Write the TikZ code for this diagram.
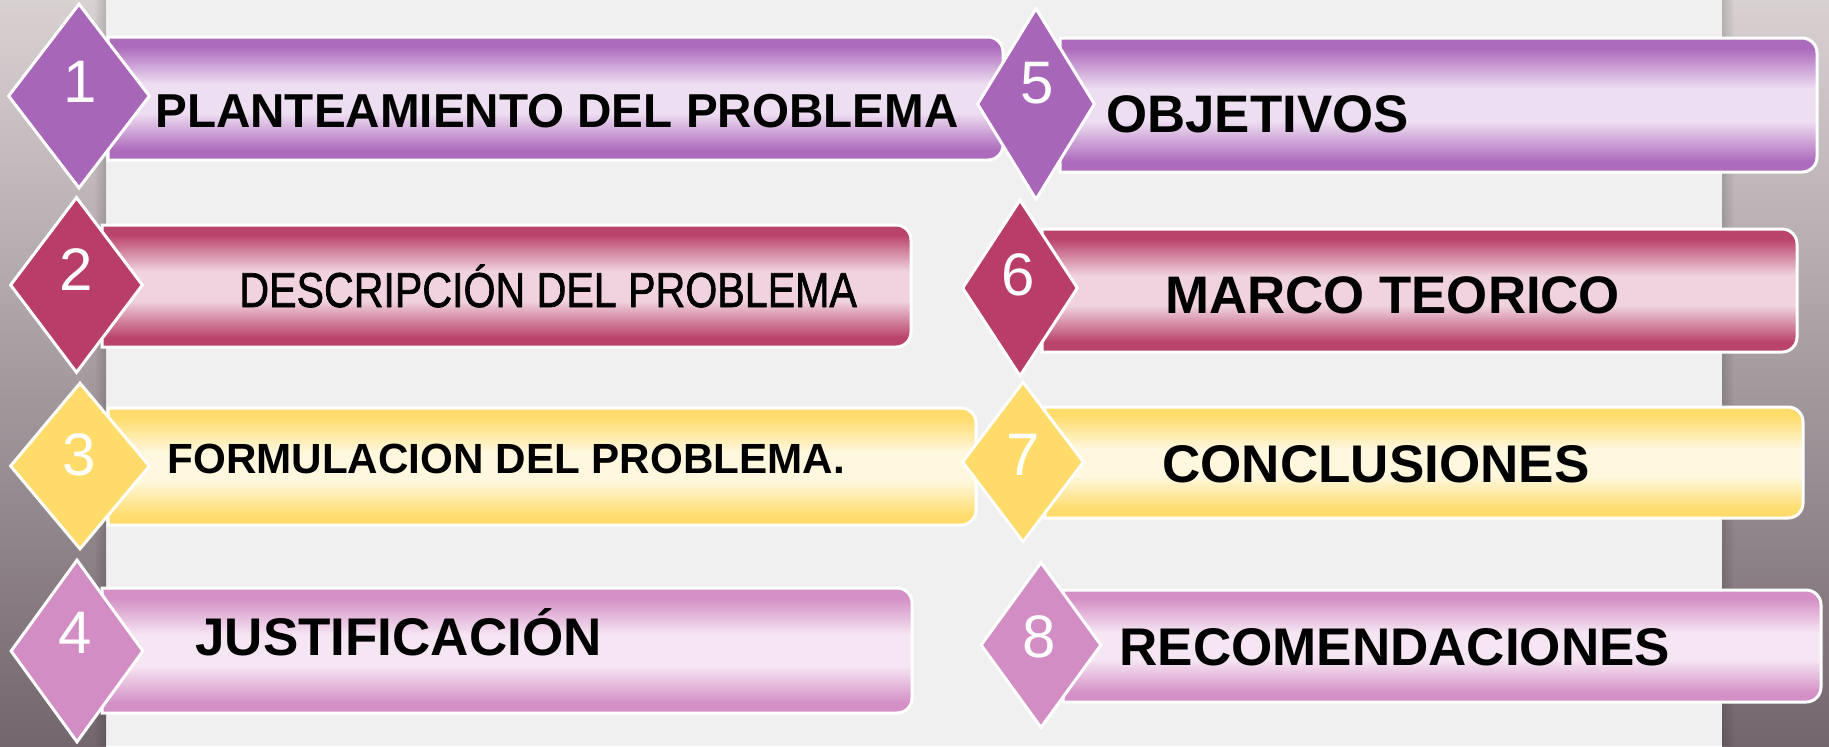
\documentclass[tikz,border=0pt]{standalone}
\usepackage{fontspec}
\setmainfont{Liberation Sans}
\newfontfamily\descf[FakeBold=1.5]{Liberation Sans}
\usetikzlibrary{shapes.geometric,fadings}
\definecolor{bgc}{HTML}{F0F0F0}
\definecolor{stripT}{HTML}{D8D1D2}
\definecolor{stripB}{HTML}{73666D}
\definecolor{purE}{HTML}{AD6BBD}
\definecolor{purL}{HTML}{EEDEF1}
\definecolor{crE}{HTML}{BA436C}
\definecolor{crL}{HTML}{F0D3DE}
\definecolor{yelE}{HTML}{FFDC6C}
\definecolor{yelL}{HTML}{FFF8DF}
\definecolor{pinE}{HTML}{D490C6}
\definecolor{pinL}{HTML}{F6E6F3}
\definecolor{purD}{HTML}{A866B9}
\definecolor{crD}{HTML}{B83D68}
\definecolor{yelD}{HTML}{FFDC6A}
\definecolor{pinD}{HTML}{D28DC4}
\pgfdeclareverticalshading{shpur}{100bp}{color(0bp)=(purE); color(29bp)=(purE); color(44bp)=(purL); color(56bp)=(purL); color(71bp)=(purE); color(100bp)=(purE)}
\pgfdeclareverticalshading{shcr}{100bp}{color(0bp)=(crE); color(29bp)=(crE); color(44bp)=(crL); color(56bp)=(crL); color(71bp)=(crE); color(100bp)=(crE)}
\pgfdeclareverticalshading{shyel}{100bp}{color(0bp)=(yelE); color(29bp)=(yelE); color(44bp)=(yelL); color(56bp)=(yelL); color(71bp)=(yelE); color(100bp)=(yelE)}
\pgfdeclareverticalshading{shpin}{100bp}{color(0bp)=(pinE); color(29bp)=(pinE); color(44bp)=(pinL); color(56bp)=(pinL); color(71bp)=(pinE); color(100bp)=(pinE)}
% #1 name, #2 shading, #3 left, #4 top, #5 right, #6 bottom
\newcommand\mkbar[6]{%
  \shadedraw[shading=#2, draw=white, line width=1.5pt] (#3,#4) -- ({#5-15},#4)
     .. controls ({#5-6.7},#4) and (#5,{#4+6.7}) .. (#5,{#4+15})
     -- (#5,{#6-15})
     .. controls (#5,{#6-6.7}) and ({#5-6.7},#6) .. ({#5-15},#6)
     -- (#3,#6) -- cycle;
  \coordinate (#1) at ({(#3+#5)/2},{(#4+#6)/2});}
\tikzset{
  dmd/.style={diamond, draw=white, line width=1.5pt, inner sep=0pt},
  num/.style={anchor=base, inner sep=0pt, text=white, font=\fontsize{30pt}{34pt}\selectfont},
  lbl/.style={anchor=base west, inner sep=0pt, text=black},
}
\begin{document}
\begin{tikzpicture}[x=0.5pt,y=-0.5pt]
\useasboundingbox (0,0) rectangle (1829,746);
\fill[bgc] (0,0) rectangle (1829,746);
\shade[top color=stripT, bottom color=stripB] (0,0) rectangle (106,746);
\shade[top color=stripT, bottom color=stripB] (1722,0) rectangle (1829,746);
\fill[black, opacity=0.15, path fading=west] (94,0) rectangle (106,746);
\fill[black, opacity=0.15, path fading=east] (1722,0) rectangle (1734,746);
% bars
\mkbar{b1}{shpur}{108}{37}{1003}{160}
\mkbar{b2}{shcr}{102}{225}{911}{347}
\mkbar{b3}{shyel}{108}{408}{976}{525}
\mkbar{b4}{shpin}{102}{588}{912}{713}
\mkbar{b5}{shpur}{1060}{38}{1817}{172}
\mkbar{b6}{shcr}{1042}{229}{1797}{352}
\mkbar{b7}{shyel}{1045}{407}{1803}{518}
\mkbar{b8}{shpin}{1063}{590}{1821}{702}
% diamonds
\node[dmd, fill=purD, minimum width=71pt, minimum height=92.5pt] (d1) at (79,96) {};
\node[dmd, fill=crD, minimum width=66.5pt, minimum height=88pt] (d2) at (76.5,285) {};
\node[dmd, fill=yelD, minimum width=70pt, minimum height=83.5pt] (d3) at (80,466) {};
\node[dmd, fill=pinD, minimum width=66.5pt, minimum height=91.5pt] (d4) at (77,651) {};
\node[dmd, fill=purD, minimum width=59pt, minimum height=96pt] (d5) at (1036,104) {};
\node[dmd, fill=crD, minimum width=58pt, minimum height=88.5pt] (d6) at (1020,288) {};
\node[dmd, fill=yelD, minimum width=61pt, minimum height=80.5pt] (d7) at (1023,462) {};
\node[dmd, fill=pinD, minimum width=60.5pt, minimum height=83pt] (d8) at (1041,645) {};
% numbers
\node[num] (n1) at (80,102) {1};
\node[num] (n2) at (76,290) {2};
\node[num] (n3) at (79,475) {3};
\node[num] (n4) at (75,653) {4};
\node[num] (n5) at (1037,103) {5};
\node[num] (n6) at (1018,295) {6};
\node[num] (n7) at (1023,475) {7};
\node[num] (n8) at (1039,657) {8};
% labels
\node[lbl, font=\fontsize{23.8pt}{28pt}\selectfont\bfseries] (t1) at (155,127) {PLANTEAMIENTO DEL PROBLEMA};
\node[lbl] (t2) at (239,307) {\scalebox{0.84}[1]{\descf\fontsize{24.5pt}{28pt}\selectfont DESCRIPCIÓN DEL PROBLEMA}};
\node[lbl, font=\fontsize{21.1pt}{25pt}\selectfont\bfseries] (t3) at (167,473) {FORMULACION DEL PROBLEMA.};
\node[lbl, font=\fontsize{26.5pt}{30pt}\selectfont\bfseries] (t4) at (195,655) {JUSTIFICACIÓN};
\node[lbl, font=\fontsize{26.4pt}{30pt}\selectfont\bfseries] (t5) at (1106,132) {OBJETIVOS};
\node[lbl, font=\fontsize{26.4pt}{30pt}\selectfont\bfseries] (t6) at (1165,313) {MARCO TEORICO};
\node[lbl, font=\fontsize{26.5pt}{30pt}\selectfont\bfseries] (t7) at (1162,482) {CONCLUSIONES};
\node[lbl, font=\fontsize{26.5pt}{30pt}\selectfont\bfseries] (t8) at (1119,665) {RECOMENDACIONES};
\end{tikzpicture}
\end{document}
